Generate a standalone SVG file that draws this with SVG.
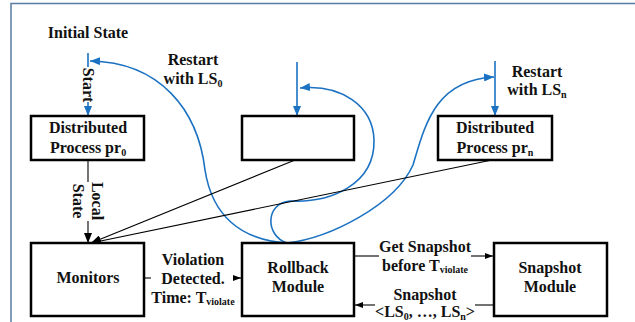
<svg xmlns="http://www.w3.org/2000/svg" width="635" height="322" viewBox="0 0 635 322">
<style>
.box{fill:#fff;stroke:#000;stroke-width:2.5}
.t{font-family:"Liberation Serif","Times New Roman",serif;font-weight:bold;font-size:16px;fill:#111;text-anchor:middle}
.sub{font-size:10px}
.blue{fill:none;stroke:#1b72c2;stroke-width:1.6}
.blk{fill:none;stroke:#000;stroke-width:1.1}
.gry{fill:none;stroke:#444;stroke-width:1.5}
.frame{fill:none;stroke:#5a7ba2;stroke-width:1.5}
</style>
<defs>
<marker id="ab" viewBox="0 0 10 8" refX="10" refY="4" markerWidth="10" markerHeight="8" markerUnits="userSpaceOnUse" orient="auto"><path d="M0,0 L10,4 L0,8 Z" fill="#1b72c2"/></marker>
<marker id="ak" viewBox="0 0 10 8" refX="10" refY="4" markerWidth="10" markerHeight="8" markerUnits="userSpaceOnUse" orient="auto"><path d="M0,0 L10,4 L0,8 Z" fill="#000"/></marker>
<marker id="as" viewBox="0 0 8 6" refX="8" refY="3" markerWidth="8" markerHeight="6" markerUnits="userSpaceOnUse" orient="auto"><path d="M0,0 L8,3 L0,6 Z" fill="#000"/></marker>
</defs>
<rect width="635" height="322" fill="#fff"/>
<path class="frame" d="M11 322 V3.5 H635"/>

<g id="connectors">
<!-- blue vertical inputs -->
<path class="blue" d="M88 53 V67" />
<path class="blue" d="M88 102 V116" marker-end="url(#ab)"/>
<path class="blue" d="M297 62 V116" marker-end="url(#ab)"/>
<path class="blue" d="M495 61 V116" marker-end="url(#ab)"/>
<!-- restart curves -->
<path class="blue" d="M287 243 C240 240,212 215,205 170 C198 110,160 62,90 61" marker-end="url(#ab)"/>
<path class="blue" d="M287 243 C265 236,265 203,290 201 C330 203,375 185,374 140 C373 105,340 84,300 88" marker-end="url(#ab)"/>
<path class="blue" d="M287 243 C330 238,395 205,413 165 C425 125,435 80,494 77" marker-end="url(#ab)"/>
<!-- black lines to monitors -->
<path class="blk" d="M88 160 V182"/>
<path class="blk" d="M88 221 V243" marker-end="url(#ak)"/>
<path class="blk" d="M295 160 L91 243" marker-end="url(#ak)"/>
<path class="blk" d="M492 160 L91 243" marker-end="url(#ak)"/>
<!-- horizontal -->
<path class="gry" d="M145 278 H151"/>
<path class="gry" d="M234 278 H241" marker-end="url(#as)"/>
<path class="gry" d="M355 256 H379"/>
<path class="gry" d="M471 256 H493" marker-end="url(#as)"/>
<path class="gry" d="M493 305 H475"/>
<path class="gry" d="M375 305 H355" marker-end="url(#as)"/>
<!-- labels -->
<text class="t" transform="translate(88,85) rotate(90)" x="0" y="5">Start</text>
<text class="t" transform="translate(88,201) rotate(90)"><tspan x="0" y="-4">Local</tspan><tspan x="0" y="15">State</tspan></text>
<text class="t" x="193" y="65">Restart</text>
<text class="t" x="193" y="84">with LS<tspan class="sub" dy="3">0</tspan></text>
<text class="t" x="537" y="77">Restart</text>
<text class="t" x="537" y="95">with LS<tspan class="sub" dy="3">n</tspan></text>
<text class="t" x="193" y="265">Violation</text>
<text class="t" x="193" y="284">Detected.</text>
<text class="t" x="193" y="303">Time: T<tspan class="sub" dy="2">violate</tspan></text>
<text class="t" x="425" y="252">Get Snapshot</text>
<text class="t" x="425" y="271">before T<tspan class="sub" dy="2">violate</tspan></text>
<text class="t" x="425" y="300">Snapshot</text>
<text class="t" x="425" y="317">&lt;LS<tspan class="sub" dy="3">0</tspan><tspan dy="-3">, …, LS</tspan><tspan class="sub" dy="3">n</tspan><tspan dy="-3">&gt;</tspan></text>
</g>

<text class="t" x="88" y="38">Initial State</text>

<g id="pr0">
<rect class="box" x="31" y="116" width="113" height="44"/>
<text class="t" x="88" y="133">Distributed</text>
<text class="t" x="88" y="153">Process pr<tspan class="sub" dy="3">0</tspan></text>
</g>
<g id="prmid">
<rect class="box" x="242" y="116" width="112" height="44"/>
</g>
<g id="prn">
<rect class="box" x="438" y="116" width="114" height="44"/>
<text class="t" x="495" y="133">Distributed</text>
<text class="t" x="495" y="153">Process pr<tspan class="sub" dy="3">n</tspan></text>
</g>
<g id="monitors">
<rect class="box" x="31" y="243" width="113" height="73"/>
<text class="t" x="88" y="283">Monitors</text>
</g>
<g id="rollback">
<rect class="box" x="242" y="243" width="112" height="73"/>
<text class="t" x="298" y="273">Rollback</text>
<text class="t" x="298" y="292">Module</text>
</g>
<g id="snapshot">
<rect class="box" x="494" y="243" width="113" height="73"/>
<text class="t" x="550" y="273">Snapshot</text>
<text class="t" x="550" y="292">Module</text>
</g>
</svg>
